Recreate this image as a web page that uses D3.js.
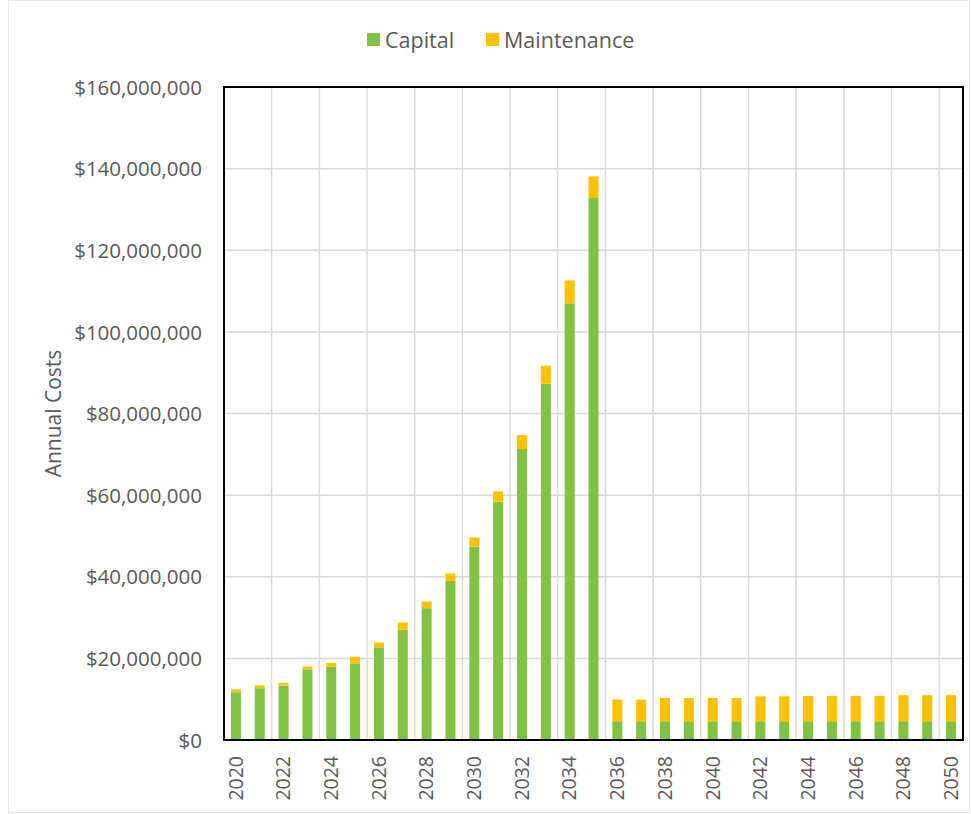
<!DOCTYPE html>
<html><head><meta charset="utf-8">
<script src="https://cdn.jsdelivr.net/npm/d3@7"></script>
<style>
html,body{margin:0;padding:0;background:#fff;}
svg text{font-family:"Open Sans","Liberation Sans",sans-serif;fill:#595959;}
</style></head>
<body>
<svg id="chart" width="971" height="814"></svg>
<script>
const years = d3.range(2020, 2051).map(String);
const capital = [11.7,12.7,13.3,17.3,18.0,18.8,22.7,27.0,32.3,39.0,47.4,58.4,71.3,87.3,107.0,132.8,
  4.6,4.6,4.6,4.6,4.6,4.6,4.6,4.6,4.6,4.6,4.6,4.6,4.6,4.6,4.6];
const maintenance = [0.7,0.7,0.7,0.7,0.9,1.6,1.2,1.8,1.6,1.8,2.2,2.5,3.4,4.4,5.6,5.3,
  5.3,5.3,5.7,5.7,5.7,5.7,6.1,6.1,6.2,6.2,6.2,6.2,6.4,6.4,6.4];
const yTicks = [0,20,40,60,80,100,120,140,160];
const seriesNames = ["Capital","Maintenance"];
const colors = ["#80c343","#ffc000"];

const svg = d3.select("#chart");
const m = {left:224, right:963, top:87, bottom:740};

// faint outer border
svg.append("rect").attr("x",8.5).attr("y",0.5).attr("width",961).attr("height",812)
  .attr("fill","none").attr("stroke","#e6e6e6");

const x = d3.scaleBand().domain(years).range([m.left, m.right]).paddingInner(0.58).paddingOuter(0.29);
const y = d3.scaleLinear().domain([0,160]).range([m.bottom, m.top]);
const step = x.step();

// grid
const g = svg.append("g");
g.selectAll("line.h").data(yTicks).join("line")
  .attr("x1",m.left).attr("x2",m.right).attr("y1",d=>y(d)).attr("y2",d=>y(d))
  .attr("stroke","#d9d9d9").attr("stroke-width",1.5);
g.selectAll("line.v").data(years.filter((d,i)=>i%2===0)).join("line")
  .attr("x1",d=>x(d)-(step-x.bandwidth())/2).attr("x2",d=>x(d)-(step-x.bandwidth())/2)
  .attr("y1",m.top).attr("y2",m.bottom)
  .attr("stroke","#d9d9d9").attr("stroke-width",1.5);

// stacked bars
const data = years.map((yr,i)=>({year:yr, Capital:capital[i], Maintenance:maintenance[i]}));
const stack = d3.stack().keys(seriesNames)(data);
svg.append("g").selectAll("g").data(stack).join("g").attr("fill",(d,i)=>colors[i])
  .selectAll("rect").data(d=>d).join("rect")
  .attr("x",d=>x(d.data.year)).attr("width",x.bandwidth())
  .attr("y",d=>y(d[1])).attr("height",d=>y(d[0])-y(d[1]));

// plot border
svg.append("rect").attr("x",m.left).attr("y",m.top).attr("width",m.right-m.left).attr("height",m.bottom-m.top)
  .attr("fill","none").attr("stroke","#000").attr("stroke-width",2);

// y axis
const yAxis = svg.append("g").attr("transform",`translate(${m.left},0)`)
  .call(d3.axisLeft(y).tickValues(yTicks).tickSize(0).tickPadding(22)
    .tickFormat(d=>"$"+d3.format(",")(d*1000000)));
yAxis.select(".domain").remove();
yAxis.selectAll("text").attr("font-size",20.5).attr("fill","#595959")
  .style("font-family",'"Open Sans",sans-serif').attr("dy","0.35em");

// x axis
const xAxis = svg.append("g").attr("transform",`translate(0,${m.bottom})`)
  .call(d3.axisBottom(x).tickValues(years.filter((d,i)=>i%2===0)).tickSize(0));
xAxis.select(".domain").remove();
xAxis.selectAll("text").attr("font-size",19.5).attr("fill","#595959")
  .style("font-family",'"Open Sans",sans-serif')
  .attr("transform","rotate(-90)").attr("text-anchor","end")
  .attr("x",-16).attr("y",0).attr("dy","0.35em");

// axis title
svg.append("text").attr("transform",`translate(54,${(m.top+m.bottom)/2}) rotate(-90)`)
  .attr("text-anchor","middle").attr("dy","0.35em").attr("font-size",21).text("Annual Costs");

// legend
const leg = svg.append("g");
const legItems = [{name:"Capital", x:367},{name:"Maintenance", x:486}];
legItems.forEach((it,i)=>{
  leg.append("rect").attr("x",it.x).attr("y",33).attr("width",13).attr("height",13).attr("fill",colors[i]);
  leg.append("text").attr("x",it.x+18).attr("y",40).attr("dy","0.35em").attr("font-size",21.5).text(it.name);
});
</script>
</body></html>
